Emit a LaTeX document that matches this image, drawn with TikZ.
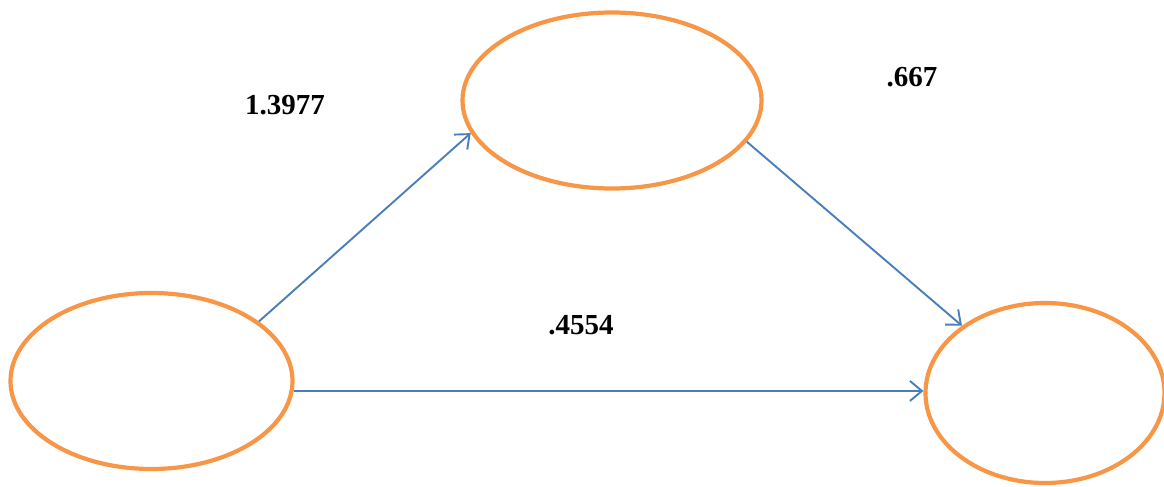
\documentclass[tikz,border=0pt]{standalone}
\usepackage{fontspec}
\setmainfont{Liberation Serif}
\usetikzlibrary{arrows.meta,shapes.geometric}
\definecolor{ovalorange}{HTML}{F79646}
\definecolor{pathblue}{HTML}{4A7EBB}
\tikzset{
  construct/.style={ellipse, draw=ovalorange, line width=4.2pt, inner sep=0pt},
  path arrow/.style={draw=pathblue, line width=1.9pt,
    -{Straight Barb[length=12pt,width=20pt,line width=1.9pt]}},
  coef/.style={font=\fontsize{29}{31}\selectfont\bfseries, inner sep=0pt}
}
\begin{document}
\begin{tikzpicture}[x=1pt,y=-1pt]
  \useasboundingbox (0,0) rectangle (1164,487);
  % constructs
  \node[construct, minimum width=282pt, minimum height=176pt] (L) at (151.5,381) {};
  \node[construct, minimum width=299pt, minimum height=176pt] (T) at (612,100.5) {};
  \node[construct, minimum width=239pt, minimum height=180pt] (R) at (1045,393) {};
  % paths
  \draw[path arrow] (L.29) -- (T.193);
  \draw[path arrow] (T.-17) -- (R.141);
  \draw[path arrow] (L.-4) -- (L.-4 -| R.west);
  % coefficients
  \node[coef] (a) at (285,105) {1.3977};
  \node[coef] (b) at (912,77) {.667};
  \node[coef] (c) at (581,325) {.4554};
\end{tikzpicture}
\end{document}
